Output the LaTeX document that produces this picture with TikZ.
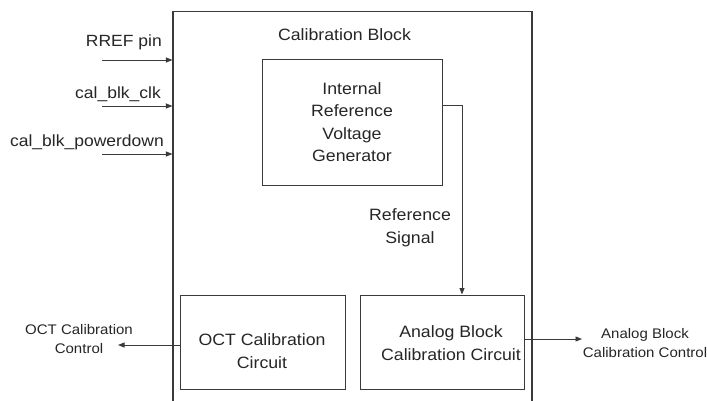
\documentclass[tikz,border=0pt]{standalone}
\usepackage{fontspec}
\setmainfont[FakeStretch=1.08]{Liberation Sans}
\usetikzlibrary{arrows.meta}
\definecolor{linec}{HTML}{3A3A3A}
\definecolor{textc}{HTML}{262626}
\tikzset{
  blockbox/.style={draw=linec, line width=1pt, inner sep=0pt},
  bigtext/.style={text=textc, font=\fontsize{16.4}{22.5}\selectfont, align=center, inner sep=0pt},
  smalltext/.style={text=textc, font=\fontsize{13.9}{18.5}\selectfont, align=center, inner sep=0pt},
  wire/.style={draw=linec, line width=0.9pt, -{Triangle[length=6.5pt,width=5pt]}},
  plainwire/.style={draw=linec, line width=0.9pt}
}
\begin{document}
\begin{tikzpicture}[x=1pt,y=-1pt]
\clip (0,0) rectangle (707,400);
\fill[white] (0,0) rectangle (707,400);
% outer calibration block
\node[blockbox, minimum width=359pt, minimum height=400pt, line width=1.1pt] (calblock) at (352.5,211.5) {};
\node[bigtext] (title) at (344.5,35) {Calibration Block};
% inputs
\coordinate (in1) at (102,60);
\coordinate (in2) at (102,106);
\coordinate (in3) at (102,154);
\draw[wire] (in1) -- (calblock.west |- in1);
\draw[wire] (in2) -- (calblock.west |- in2);
\draw[wire] (in3) -- (calblock.west |- in3);
\node[bigtext, anchor=east, font=\fontsize{16.2}{20}\selectfont] (l1) at (162,42) {RREF pin};
\node[bigtext, anchor=east, font=\fontsize{16.2}{20}\selectfont] (l2) at (161,94) {cal\_blk\_clk};
\node[bigtext, anchor=east, font=\fontsize{16.2}{20}\selectfont] (l3) at (164,142) {cal\_blk\_powerdown};
% internal reference voltage generator
\node[blockbox, bigtext, draw=linec, line width=1pt, minimum width=180pt, minimum height=126pt] (irvg) at (352,122) {Internal\\Reference\\Voltage\\Generator};
% bottom blocks
\node[blockbox, minimum width=165pt, minimum height=94pt] (oct) at (262.5,342) {};
\node[bigtext] (octtxt) at (262,351) {OCT Calibration\\Circuit};
\node[blockbox, minimum width=164pt, minimum height=94pt] (analog) at (442,342) {};
\node[bigtext] (analogtxt) at (451,343) {Analog Block\\Calibration Circuit};
% reference signal connector
\draw[wire] ([yshift=17pt]irvg.east) -| ([xshift=20pt]analog.north);
\node[bigtext] (refsig) at (410,228) {Reference\\Signal};
% outputs
\coordinate (octout) at (118,345);
\draw[wire] (oct.west |- octout) -- (octout);
\node[smalltext] (octlbl) at (79,339) {OCT Calibration\\Control};
\coordinate (anout) at (582,339);
\draw[wire] (analog.east |- anout) -- (anout);
\node[smalltext] (anlbl) at (645,343) {Analog Block\\Calibration Control};
\end{tikzpicture}
\end{document}
